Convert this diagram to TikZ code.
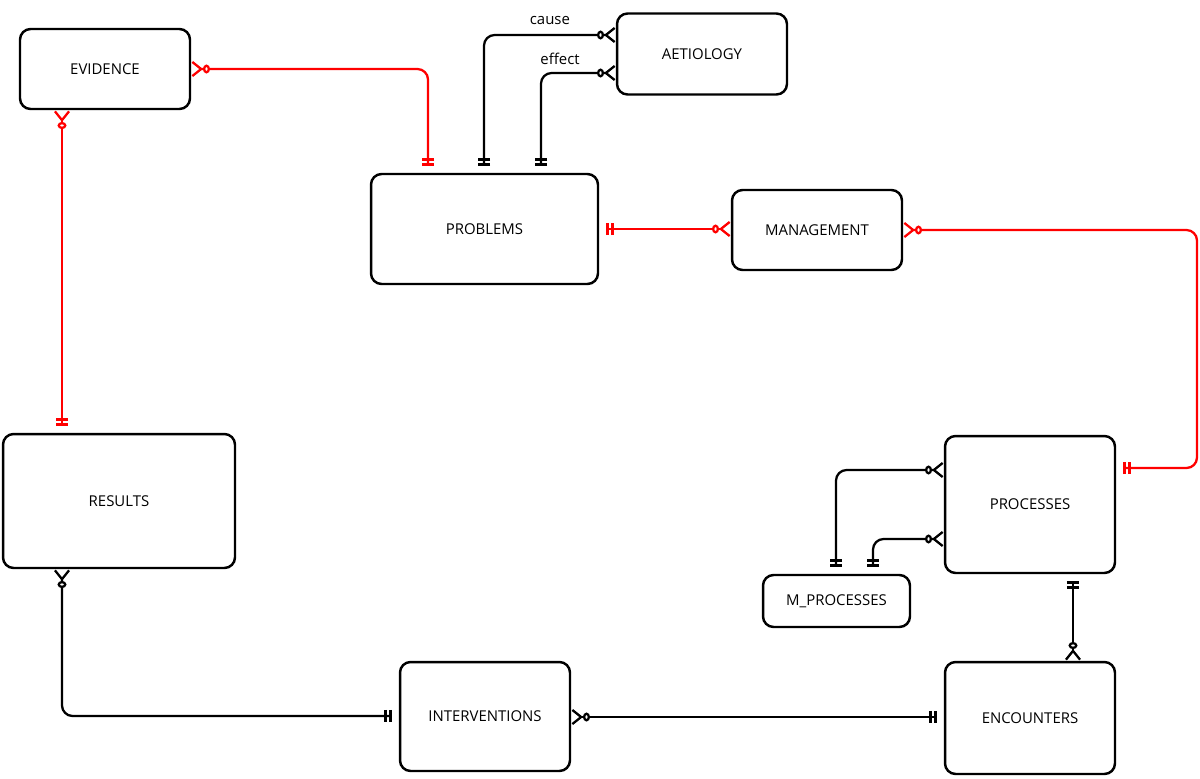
\documentclass[tikz,border=0pt]{standalone}
\usepackage{fontspec}
\setmainfont{Open Sans}
\usetikzlibrary{arrows.meta}
\tikzset{
 one/.tip={Bar[width=7pt,sep=1.6pt]Bar[width=7pt,sep=4pt]},
 many/.tip={Circle[open,length=4pt,width=5pt,sep=0pt,fill=white]Straight Barb[reversed,length=5pt,width=8pt,sep=0pt]},
}
\begin{document}
\begin{tikzpicture}[x=0.02cm,y=-0.02cm,
 ent/.style={draw,line width=1.4pt,rounded corners=6pt,inner sep=0pt,font=\fontsize{8.5}{10}\selectfont},
 rel/.style={line width=1.3pt,rounded corners=6pt},
 rrel/.style={rel,draw=red},
]
\useasboundingbox (0,0) rectangle (1200,778);
\node[ent,minimum width=3.4cm,minimum height=1.6cm] (ev) at (105,69) {EVIDENCE};
\node[ent,minimum width=3.4cm,minimum height=1.62cm] (ae) at (702,54) {AETIOLOGY};
\node[ent,minimum width=4.54cm,minimum height=2.2cm] (pr) at (484.5,229) {PROBLEMS};
\node[ent,minimum width=3.4cm,minimum height=1.6cm] (ma) at (817,230) {MANAGEMENT};
\node[ent,minimum width=4.64cm,minimum height=2.68cm] (re) at (119,501) {RESULTS};
\node[ent,minimum width=3.4cm,minimum height=2.74cm] (pc) at (1030,504.5) {PROCESSES};
\node[ent,minimum width=2.94cm,minimum height=1.04cm] (mp) at (836.5,601) {M\_PROCESSES};
\node[ent,minimum width=3.4cm,minimum height=2.18cm] (in) at (485,716.5) {INTERVENTIONS};
\node[ent,minimum width=3.4cm,minimum height=2.24cm] (en) at (1030,718) {ENCOUNTERS};
\coordinate (c1) at (428,69);
\coordinate (c2) at (1197,230);
\coordinate (c3) at (484,35);
\coordinate (c4) at (541,73);
\coordinate (c5) at (836,470);
\coordinate (c6) at (873,539);
\coordinate (c7) at (62,716);
% red
\draw[rrel,one-many] (pr.north -| c1) -- (c1) -- (ev.east |- c1);
\draw[rrel,one-many] (re.north -| 62,0) -- (ev.south -| 62,0);
\draw[rrel,one-many] (pr.east |- 0,229) -- (ma.west |- 0,229);
\draw[rrel,one-many] (pc.east |- 0,468) -- (c2 |- 0,468) -- (c2) -- (ma.east |- c2);
% black
\draw[rel,one-many] (pr.north -| c3) -- (c3) -- (ae.west |- c3) node[pos=0.5,above=2pt,font=\fontsize{8.5}{10}\selectfont] {cause};
\draw[rel,one-many] (pr.north -| c4) -- (c4) -- (ae.west |- c4);
\node[font=\fontsize{8.5}{10}\selectfont] (ef) at (560,59) {effect};
\draw[rel,one-many] (mp.north -| c5) -- (c5) -- (pc.west |- c5);
\draw[rel,one-many] (mp.north -| c6) -- (c6) -- (pc.west |- c6);
\draw[rel,one-many] (pc.south -| 1073,0) -- (en.north -| 1073,0);
\draw[rel,one-many] (in.west |- c7) -- (c7) -- (re.south -| c7);
\draw[rel,one-many] (en.west |- 0,717) -- (in.east |- 0,717);
\end{tikzpicture}
\end{document}
